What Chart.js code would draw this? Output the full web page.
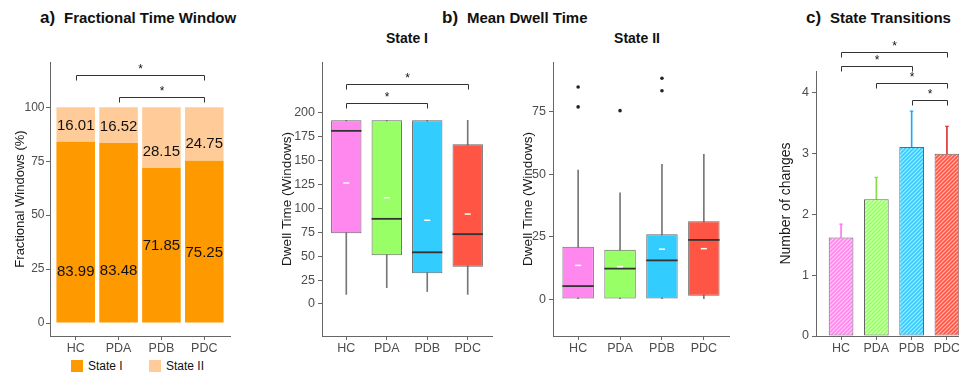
<!DOCTYPE html>
<html><head><meta charset="utf-8">
<script src="https://cdn.jsdelivr.net/npm/chart.js@4/dist/chart.umd.min.js"></script>
<style>
html,body{margin:0;padding:0;width:959px;height:379px;overflow:hidden;background:#fff;font-family:"Liberation Sans",Arial,sans-serif;}
canvas{position:absolute;top:0;}
.t{position:absolute;white-space:nowrap;font-weight:bold;color:#111;line-height:20px;}
.t .n{font-size:17px;}
.t .m{font-size:15px;}
.st{position:absolute;width:120px;text-align:center;font-weight:bold;font-size:14px;color:#111;line-height:20px;top:28px;}
.lg{position:absolute;top:360px;height:12px;display:flex;align-items:center;font-size:12px;color:#111;}
.lg i{display:inline-block;width:12px;height:12px;margin-right:5px;}
</style></head>
<body>
<div class="t" style="left:40px;top:8px"><span class="n">a)</span>&nbsp;&nbsp;<span class="m">Fractional Time Window</span></div>
<div class="t" style="left:442px;top:8px"><span class="n">b)</span>&nbsp;&nbsp;<span class="m">Mean Dwell Time</span></div>
<div class="t" style="left:806px;top:8px"><span class="n">c)</span>&nbsp;&nbsp;<span class="m">State Transitions</span></div>
<div class="st" style="left:347px">State I</div>
<div class="st" style="left:577px">State II</div>
<div class="lg" style="left:71px"><i style="background:#ff9900"></i>State I</div>
<div class="lg" style="left:149px"><i style="background:#ffcc99"></i>State II</div>

<canvas id="ca" width="240" height="379" style="left:0px"></canvas>
<canvas id="cb1" width="260" height="379" style="left:240px"></canvas>
<canvas id="cb2" width="240" height="379" style="left:500px"></canvas>
<canvas id="cc" width="240" height="379" style="left:760px"></canvas>

<script>
const F = '"Liberation Sans", Arial, sans-serif';

// ---------- data ----------
const categories = ['HC', 'PDA', 'PDB', 'PDC'];
const groupColors = ['#ff88ee', '#99ff66', '#33ccff', '#ff5544'];

// a) Fractional time window (%)
const stateI  = [83.99, 83.48, 71.85, 75.25];
const stateII = [16.01, 16.52, 28.15, 24.75];
const fracTicks = [0, 25, 50, 75, 100];
const fracSig = [[1, 4, 115], [2, 4, 105]];

// b) Dwell time, State I
const dwellIMin    = [10, 17, 13, 10];
const dwellIQ1     = [74, 51, 32, 39];
const dwellIMedian = [181, 89, 54, 73];
const dwellIQ3     = [192, 192, 192, 167];
const dwellIMax    = [192, 192, 192, 192];
const dwellIMean   = [126.5, 111, 87.5, 94];
const dwellITicks  = [0, 25, 50, 75, 100, 125, 150, 175, 200];
const dwellISig    = [[1, 4, 230], [1, 3, 210]];

// b) Dwell time, State II
const dwellIIMin    = [0, 0, 0, 0];
const dwellIIQ1     = [0, 0, 0, 1.3];
const dwellIIMedian = [5.2, 12.2, 15.5, 23.7];
const dwellIIQ3     = [21, 19.8, 26, 31.2];
const dwellIIMax    = [51.7, 42.6, 54, 58];
const dwellIIMean   = [13.5, 13, 20, 20.2];
const dwellIIOutliers = [[85, 77], [75.5], [88.5, 83.5], []];
const dwellIITicks  = [0, 25, 50, 75];

// c) State transitions
const transMean = [1.62, 2.25, 3.11, 3.0];
const transSE   = [0.22, 0.36, 0.59, 0.45];
const transTicks = [0, 1, 2, 3, 4];
const transSig = [[1, 4, 4.68], [1, 3, 4.45], [2, 4, 4.16], [3, 4, 3.89]];
const errColors = ['#ff77ee', '#88dd44', '#22aaee', '#dd3333'];

// ---------- helpers ----------
const AX = '#666';
function xAxis(min, max, h, fs) {
  return {
    type: 'linear', min, max, offset: false,
    afterBuildTicks: s => { s.ticks = categories.map((c, i) => ({ value: i + 1 })); },
    afterFit: s => { s.height = h; },
    ticks: { callback: v => categories[v - 1], color: '#4d4d4d', font: { size: fs, family: F }, padding: 1, autoSkip: false, maxRotation: 0 },
    grid: { display: true, offset: false, drawOnChartArea: false, drawTicks: true, tickLength: 4, color: AX },
    border: { display: true, color: AX, width: 1 }
  };
}
function yAxis(min, max, ticks, w, title, tfs, fs, tp) {
  return {
    type: 'linear', min, max,
    afterBuildTicks: s => { s.ticks = ticks.map(v => ({ value: v })); },
    afterFit: s => { s.width = w; },
    ticks: { color: '#4d4d4d', font: { size: fs, family: F }, padding: tp },
    grid: { display: true, drawOnChartArea: false, drawTicks: true, tickLength: 4, color: AX },
    border: { display: true, color: AX, width: 1 },
    title: { display: true, text: title, color: '#1a1a1a', font: { size: tfs, family: F }, padding: { top: 4, bottom: 0 } }
  };
}
const brackets = {
  id: 'brackets',
  afterDraw(chart, args, opts) {
    const { ctx, scales: { x, y } } = chart;
    ctx.save();
    ctx.strokeStyle = '#333'; ctx.lineWidth = 1;
    ctx.fillStyle = '#111'; ctx.font = '12px ' + F; ctx.textAlign = 'center'; ctx.textBaseline = 'middle';
    (opts.items || []).forEach(([a, b, v]) => {
      const x1 = Math.round(x.getPixelForValue(a)) + 0.5, x2 = Math.round(x.getPixelForValue(b)) + 0.5;
      const yy = Math.round(y.getPixelForValue(v)) + 0.5;
      ctx.beginPath(); ctx.moveTo(x1, yy + 5); ctx.lineTo(x1, yy); ctx.lineTo(x2, yy); ctx.lineTo(x2, yy + 5); ctx.stroke();
      ctx.fillText('*', (x1 + x2) / 2, yy - 6);
    });
    ctx.restore();
  }
};
const labelShift = 7.6;
const stackLabels = {
  id: 'stackLabels',
  afterDatasetsDraw(chart) {
    const { ctx, scales: { x, y } } = chart;
    ctx.save(); ctx.font = '15px ' + F; ctx.fillStyle = '#111'; ctx.textAlign = 'center'; ctx.textBaseline = 'middle';
    categories.forEach((c, i) => {
      const px = x.getPixelForValue(i + 1);
      ctx.fillText(stateI[i].toFixed(2), px, y.getPixelForValue(stateII[i] + labelShift));
      ctx.fillText(stateII[i].toFixed(2), px, y.getPixelForValue(stateI[i] + labelShift));
    });
    ctx.restore();
  }
};
const pts = arr => arr.map((v, i) => ({ x: i + 1, y: v }));
const rng = (lo, hi) => lo.map((v, i) => ({ x: i + 1, y: [v, hi[i]] }));
const halfW = frac => c => { const s = c.chart.scales.x; return Math.abs(s.getPixelForValue(1 + frac) - s.getPixelForValue(1)); };
const base = { responsive: false, animation: false, devicePixelRatio: 1 };

// ---------- a) ----------
new Chart(document.getElementById('ca'), {
  type: 'bar',
  data: { datasets: [
    { label: 'State I', data: pts(stateI), backgroundColor: '#ff9900', barPercentage: 0.9, categoryPercentage: 1, borderWidth: 0 },
    { label: 'State II', data: pts(stateII), backgroundColor: '#ffcc99', barPercentage: 0.9, categoryPercentage: 1, borderWidth: 0 }
  ] },
  options: Object.assign({}, base, {
    layout: { padding: { left: 9, right: 10, top: 62, bottom: 0 } },
    scales: {
      x: Object.assign(xAxis(0.4, 4.6, 43, 12.5), { stacked: true }),
      y: Object.assign(yAxis(-6, 121, fracTicks, 41, 'Fractional Windows (%)', 13, 12, 1.5), { stacked: true })
    },
    plugins: { legend: { display: false }, tooltip: { enabled: false }, brackets: { items: fracSig } }
  }),
  plugins: [stackLabels, brackets]
});

// ---------- b) box plots ----------
function boxChart(id, mn, q1, med, q3, mx, mean, outl, ymin, ymax, ticks, sig, padL, yw, padR) {
  const outPts = [];
  outl.forEach((arr, i) => arr.forEach(v => outPts.push({ x: i + 1, y: v })));
  new Chart(document.getElementById(id), {
    type: 'bar',
    data: { datasets: [
      { type: 'line', data: outPts, showLine: false, pointStyle: 'circle', pointRadius: 1.8, pointBackgroundColor: '#222', pointBorderWidth: 0, order: 0 },
      { type: 'line', data: pts(mean), showLine: false, pointStyle: 'line', pointRadius: 3, pointBorderColor: '#ffffff', pointBorderWidth: 1.5, order: 0 },
      { type: 'line', data: pts(med), showLine: false, pointStyle: 'line', pointRadius: halfW(0.375), pointBorderColor: '#333', pointBorderWidth: 1.8, order: 1 },
      { data: rng(q1, q3), backgroundColor: groupColors, borderColor: '#666', borderWidth: 1, borderSkipped: false, barPercentage: 0.75, categoryPercentage: 1, grouped: false, order: 2 },
      { data: rng(mn, mx), backgroundColor: '#777', barThickness: 1, borderWidth: 0, grouped: false, order: 3 }
    ] },
    options: Object.assign({}, base, {
      layout: { padding: { left: padL, right: padR, top: 62, bottom: 0 } },
      scales: {
        x: xAxis(0.4, 4.6, 43, 12.5),
        y: yAxis(ymin, ymax, ticks, yw, 'Dwell Time (Windows)', 13.5, 12.5, 3)
      },
      plugins: { legend: { display: false }, tooltip: { enabled: false }, brackets: { items: sig } }
    }),
    plugins: [brackets]
  });
}
boxChart('cb1', dwellIMin, dwellIQ1, dwellIMedian, dwellIQ3, dwellIMax, dwellIMean, [[], [], [], []], -33.5, 253, dwellITicks, dwellISig, 35, 47, 8);
boxChart('cb2', dwellIIMin, dwellIIQ1, dwellIIMedian, dwellIIQ3, dwellIIMax, dwellIIMean, dwellIIOutliers, -14.8, 95, dwellIITicks, [], 16, 37, 11);

// ---------- c) ----------
function hatch(color) {
  const s = 4;
  const c = document.createElement('canvas'); c.width = s; c.height = s;
  const g = c.getContext('2d');
  g.fillStyle = color; g.fillRect(0, 0, s, s);
  g.strokeStyle = 'rgba(255,255,255,0.6)'; g.lineWidth = 1.2;
  g.beginPath();
  g.moveTo(-1, s + 1); g.lineTo(s + 1, -1);
  g.moveTo(-1, 1); g.lineTo(1, -1);
  g.moveTo(s - 1, s + 1); g.lineTo(s + 1, s - 1);
  g.stroke();
  return g.createPattern(c, 'repeat');
}
const transTop = transMean.map((m, i) => m + transSE[i]);
new Chart(document.getElementById('cc'), {
  type: 'bar',
  data: { datasets: [
    { type: 'line', data: pts(transTop), showLine: false, pointStyle: 'line', pointRadius: 1.8, pointBorderColor: errColors, pointBorderWidth: 1.2, order: 0 },
    { data: pts(transMean), backgroundColor: groupColors.map(hatch), borderColor: '#666', borderWidth: 1, borderSkipped: false, barPercentage: 0.7, categoryPercentage: 1, grouped: false, order: 1 },
    { data: rng(transMean, transTop), backgroundColor: errColors, barThickness: 1, borderWidth: 0, grouped: false, order: 2 }
  ] },
  options: Object.assign({}, base, {
    layout: { padding: { left: 14, right: 28, top: 71, bottom: 0 } },
    scales: {
      x: xAxis(0.29, 4.71, 43, 12.5),
      y: yAxis(0, 4.36, transTicks, 42, 'Number of changes', 14, 12.5, 3)
    },
    plugins: { legend: { display: false }, tooltip: { enabled: false }, brackets: { items: transSig } }
  }),
  plugins: [brackets]
});
</script>
</body></html>
